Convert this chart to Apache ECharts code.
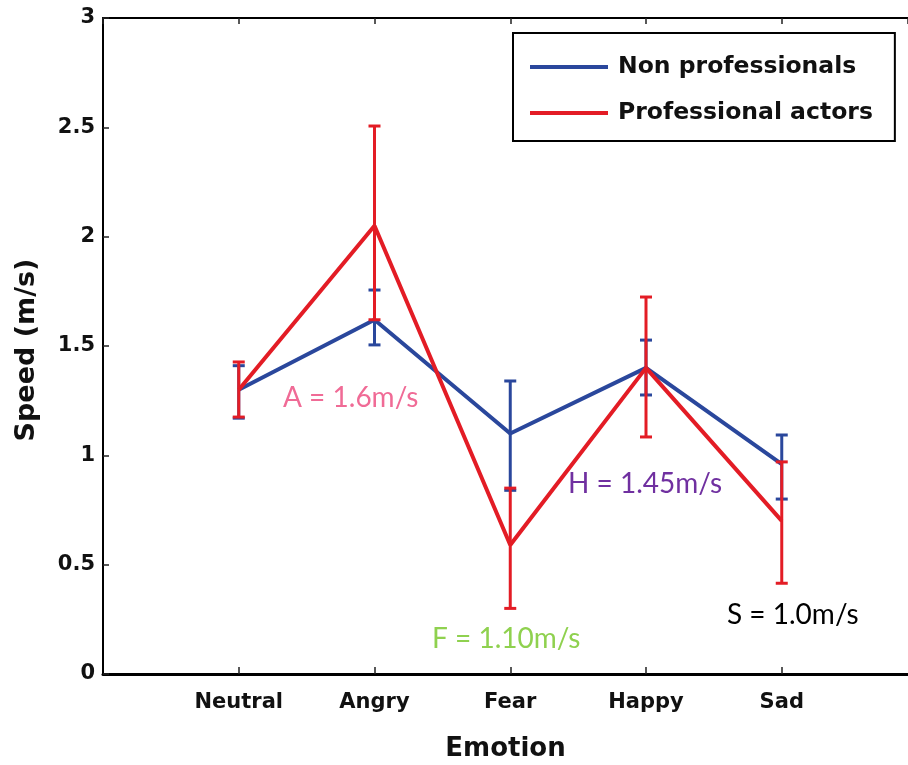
<!DOCTYPE html>
<html>
<head>
<meta charset="utf-8">
<script src="https://cdn.jsdelivr.net/npm/echarts@6/dist/echarts.min.js"></script>
<style>
html,body{margin:0;padding:0;background:#fff;}
#chart{width:908px;height:765px;}
</style>
</head>
<body>
<div id="chart"></div>
<script>
// ---- data ----
var categories = ['Neutral', 'Angry', 'Fear', 'Happy', 'Sad'];
var yTicks = [0, 0.5, 1, 1.5, 2, 2.5, 3];
var nonProMean = [1.30, 1.62, 1.10, 1.40, 0.96];
var nonProLow  = [1.17, 1.505, 0.84, 1.276, 0.80];
var nonProHigh = [1.41, 1.756, 1.34, 1.527, 1.093];
var proMean = [1.30, 2.05, 0.59, 1.40, 0.70];
var proLow  = [1.175, 1.62, 0.30, 1.084, 0.415];
var proHigh = [1.427, 2.506, 0.85, 1.724, 0.97];
var annotations = ['A = 1.6m/s', 'H = 1.45m/s', 'F = 1.10m/s', 'S = 1.0m/s'];
// visible x extent (the right axis of the original figure is cut off by the image edge)
var xMax = 5.93;

var BLUE = '#2a479c';
var RED = '#e31c25';
var FONT = '"DejaVu Sans", sans-serif';

function pts(vals) { return vals.map(function (v, i) { return [i + 1, v]; }); }
function errs(lo, hi) { return lo.map(function (v, i) { return [i + 1, v, hi[i]]; }); }

function errRender(color) {
  return function (params, api) {
    var x = api.value(0);
    var p1 = api.coord([x, api.value(1)]);
    var p2 = api.coord([x, api.value(2)]);
    var hw = 6;
    var st = { stroke: color, lineWidth: 3 };
    return {
      type: 'group',
      children: [
        { type: 'line', shape: { x1: p1[0], y1: p1[1], x2: p2[0], y2: p2[1] }, style: st },
        { type: 'line', shape: { x1: p1[0] - hw, y1: p1[1], x2: p1[0] + hw, y2: p1[1] }, style: st },
        { type: 'line', shape: { x1: p2[0] - hw, y1: p2[1], x2: p2[0] + hw, y2: p2[1] }, style: st }
      ]
    };
  };
}

function catLabel(v) {
  return (Math.abs(v - Math.round(v)) < 1e-6 && categories[Math.round(v) - 1]) || '';
}

var chart = echarts.init(document.getElementById('chart'), null, { renderer: 'canvas' });
var option = {
  backgroundColor: '#fff',
  animation: false,
  grid: { left: 103, right: 0, top: 18, bottom: 91, containLabel: false, outerBoundsMode: 'none' },
  xAxis: [{
    type: 'value', min: 0, max: xMax, interval: 1,
    name: 'Emotion', nameLocation: 'middle', nameGap: 62,
    nameTextStyle: { fontFamily: FONT, fontWeight: 'bold', fontSize: 26, color: '#111' },
    axisLine: { show: true, onZero: false, lineStyle: { color: '#000', width: 3 } },
    axisTick: { show: true, inside: true, length: 7, lineStyle: { color: '#222', width: 1.5 } },
    axisLabel: {
      margin: 18, fontFamily: FONT, fontWeight: 'bold', fontSize: 21, color: '#111',
      showMinLabel: false, showMaxLabel: false,
      formatter: catLabel
    },
    splitLine: { show: false }
  }, {
    type: 'value', position: 'top', min: 0, max: xMax, interval: 1,
    axisLine: { show: true, onZero: false, lineStyle: { color: '#000', width: 2 } },
    axisTick: { show: true, inside: true, length: 6, lineStyle: { color: '#222', width: 1.5 } },
    axisLabel: { show: false },
    splitLine: { show: false }
  }],
  yAxis: {
    type: 'value', min: yTicks[0], max: yTicks[yTicks.length - 1], interval: 0.5,
    axisLine: { show: true, lineStyle: { color: '#000', width: 2 } },
    axisTick: { show: true, inside: true, length: 6, lineStyle: { color: '#222', width: 1.5 } },
    axisLabel: { margin: 8, fontFamily: FONT, fontWeight: 'bold', fontSize: 21, color: '#111' },
    splitLine: { show: false }
  },
  legend: {
    orient: 'vertical', left: 513, top: 33,
    padding: [21, 22, 15, 17],
    itemGap: 20, itemWidth: 78, itemHeight: 4, icon: 'rect',
    borderColor: '#000', borderWidth: 2, backgroundColor: '#fff',
    textStyle: { fontFamily: FONT, fontWeight: 'bold', fontSize: 23.5, color: '#111', padding: [0, 0, 0, 5], lineHeight: 26 },
    data: [
      { name: 'Non professionals', itemStyle: { color: BLUE } },
      { name: 'Professional actors', itemStyle: { color: RED } }
    ]
  },
  graphic: [
    { type: 'text', x: 27, y: 350, rotation: Math.PI / 2,
      style: { text: 'Speed (m/s)', fontFamily: FONT, fontWeight: 'bold', fontSize: 27, fill: '#111', textAlign: 'center', textVerticalAlign: 'middle' } },
    { type: 'text', left: 283, top: 384, z: 100,
      style: { text: annotations[0], fontFamily: 'Lato, sans-serif', fontSize: 28, fill: '#f06b96' } },
    { type: 'text', left: 568, top: 470, z: 100,
      style: { text: annotations[1], fontFamily: 'Lato, sans-serif', fontSize: 28, fill: '#7030a0' } },
    { type: 'text', left: 432, top: 625, z: 100,
      style: { text: annotations[2], fontFamily: 'Lato, sans-serif', fontSize: 28, fill: '#8fd14f' } },
    { type: 'text', left: 727, top: 601, z: 100,
      style: { text: annotations[3], fontFamily: 'Lato, sans-serif', fontSize: 28, fill: '#000' } }
  ],
  series: [
    { name: 'Non professionals', type: 'line', data: pts(nonProMean), showSymbol: false, symbol: 'none',
      lineStyle: { color: BLUE, width: 4 }, itemStyle: { color: BLUE }, z: 2 },
    { name: 'nonProErr', type: 'custom', data: errs(nonProLow, nonProHigh), renderItem: errRender(BLUE), z: 3 },
    { name: 'Professional actors', type: 'line', data: pts(proMean), showSymbol: false, symbol: 'none',
      lineStyle: { color: RED, width: 4 }, itemStyle: { color: RED }, z: 4 },
    { name: 'proErr', type: 'custom', data: errs(proLow, proHigh), renderItem: errRender(RED), z: 5 }
  ]
};
chart.setOption(option);
</script>
</body>
</html>
